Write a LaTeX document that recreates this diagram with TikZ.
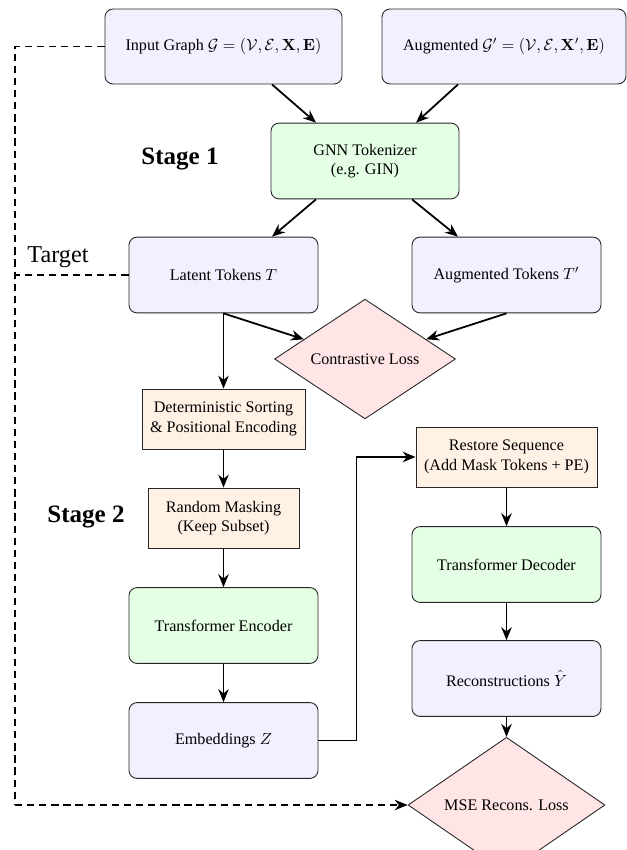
\documentclass[tikz,border=0pt]{standalone}
\usepackage[no-math]{fontspec}
\setmainfont{Liberation Serif}
\usetikzlibrary{arrows.meta,shapes.geometric,calc}
\begin{document}
\begin{tikzpicture}[x=0.62pt,y=-0.62pt,
  font=\fontsize{10}{12}\selectfont,
  base/.style={draw=black!85,line width=0.55pt,align=center,inner sep=2pt},
  rbox/.style={base,rounded corners=5pt,minimum width=117.2pt,minimum height=47pt},
  bluebox/.style={rbox,fill=blue!6},
  greenbox/.style={rbox,fill=green!10},
  sqbox/.style={base,fill=orange!10},
  lossnode/.style={base,diamond,fill=red!10,inner sep=0pt},
  arr/.style={-{Stealth[length=8pt,width=6.5pt]},line width=1.1pt},
  dashline/.style={line width=1pt,dash pattern=on 4.5pt off 3pt}
]
\useasboundingbox (0,0) rectangle (627,850);

\node[bluebox,minimum width=147pt,minimum height=46.5pt] (inp) at (223.5,46.5) {Input Graph $\mathcal{G}=(\mathcal{V},\mathcal{E},\mathbf{X},\mathbf{E})$};
\node[bluebox,minimum width=151.3pt,minimum height=46.5pt] (aug) at (504,46.5) {Augmented $\mathcal{G}'=(\mathcal{V},\mathcal{E},\mathbf{X}',\mathbf{E})$};
\node[greenbox,minimum width=116.6pt] (gnn) at (365,161) {GNN Tokenizer\\(e.g. GIN)};
\node[font=\fontsize{15.5}{18}\selectfont\bfseries] (st1) at (180,159) {Stage 1};
\node[bluebox] (lat) at (223.5,275) {Latent Tokens $T$};
\node[bluebox] (augt) at (506.5,275) {Augmented Tokens $T'$};
\node[font=\fontsize{15}{18}\selectfont] (tgt) at (58,257) {Target};
\node[lossnode,minimum width=112.2pt,minimum height=54.6pt] (closs) at (365,359) {Contrastive Loss};
\node[sqbox,minimum width=101pt,minimum height=37.2pt] (det) at (223.5,419) {Deterministic Sorting\\\& Positional Encoding};
\node[sqbox,minimum width=93.6pt,minimum height=37.2pt] (rmask) at (223.5,518) {Random Masking\\(Keep Subset)};
\node[font=\fontsize{15.5}{18}\selectfont\bfseries] (st2) at (86,517) {Stage 2};
\node[greenbox] (enc) at (223.5,625.5) {Transformer Encoder};
\node[bluebox] (emb) at (223.5,740.5) {Embeddings $Z$};
\node[sqbox,minimum width=112.2pt,minimum height=37.2pt] (rest) at (506.5,457) {Restore Sequence\\(Add Mask Tokens + PE)};
\node[greenbox] (dec) at (506.5,564.5) {Transformer Decoder};
\node[bluebox] (rec) at (506.5,678.5) {Reconstructions $\hat{Y}$};
\node[lossnode,minimum width=122.1pt,minimum height=60.8pt] (mse) at (506.5,805) {MSE Recons. Loss};

\coordinate (dtop) at (15,46.5);
\coordinate (dbot) at (15,805);
\coordinate (dmid) at (15,275);

\draw[arr] ($(inp.south)+(48.5,0)$) -- ($(gnn.north)+(-49,0)$);
\draw[arr] ($(aug.south)+(-46,0)$) -- ($(gnn.north)+(51,0)$);
\draw[arr] ($(gnn.south)+(-49,0)$) -- ($(lat.north)+(48.5,0)$);
\draw[arr] ($(gnn.south)+(47,0)$) -- ($(augt.north)+(-48.5,0)$);
\draw[arr] (lat.south) -- (closs);
\draw[arr] (augt.south) -- (closs);
\draw[arr] (lat.south) -- (det.north);
\draw[arr] (det.south) -- (rmask.north);
\draw[arr] (rmask.south) -- (enc.north);
\draw[arr] (enc.south) -- (emb.north);
\draw[arr] (emb.east) -- ++(38,0) |- (rest.west);
\draw[arr] (rest.south) -- (dec.north);
\draw[arr] (dec.south) -- (rec.north);
\draw[arr] (rec.south) -- (mse.north);

\draw[dashline] (inp.west) -- (dtop) -- (dbot);
\draw[dashline,-{Stealth[length=8pt,width=6.5pt]}] (dbot) -- (mse.west);
\draw[dashline] (lat.west) -- (dmid);
\end{tikzpicture}
\end{document}
